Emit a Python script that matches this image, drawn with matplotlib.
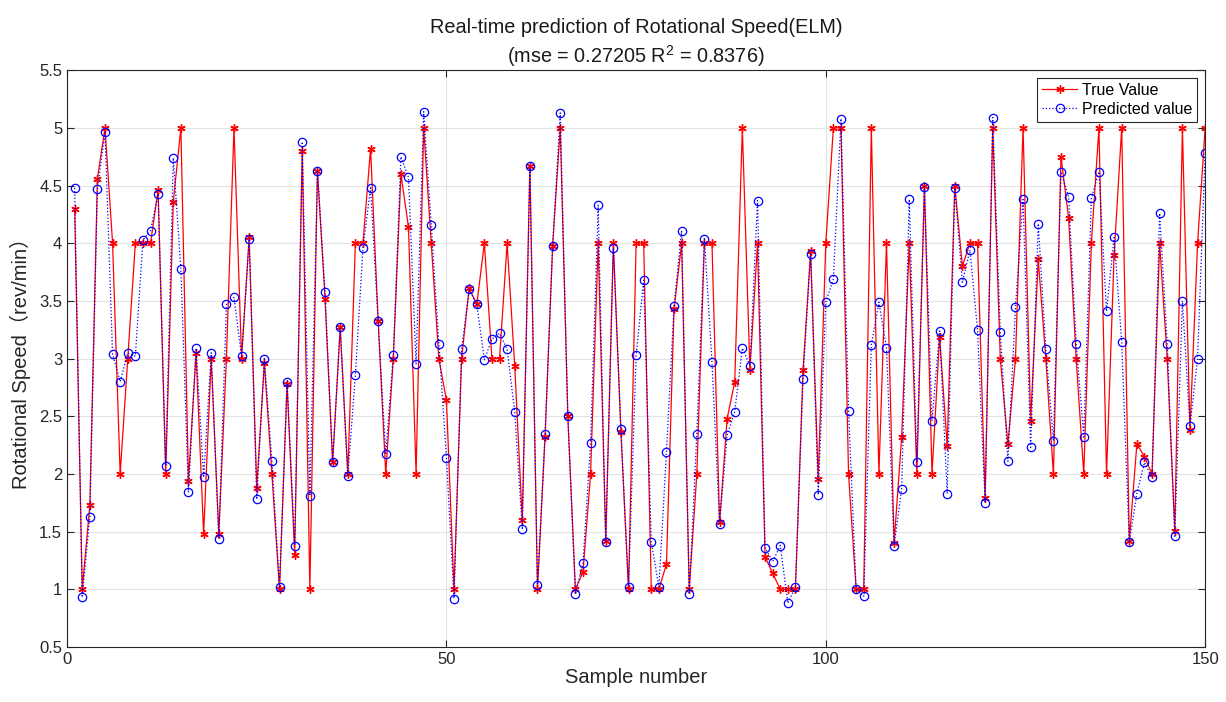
import matplotlib
matplotlib.use('Agg')
import matplotlib.pyplot as plt
import numpy as np

plt.rcParams['font.family'] = ['Liberation Sans', 'Noto Sans CJK SC', 'DejaVu Sans']
plt.rcParams['mathtext.fontset'] = 'custom'
plt.rcParams['mathtext.rm'] = 'Liberation Sans'

# samples 1..150
true_vals = [
    4.3, 1.0, 1.73, 4.56, 5.0, 4.0, 2.0, 3.0, 4.0, 4.0,
    4.0, 4.46, 2.0, 4.36, 5.0, 1.94, 3.05, 1.48, 3.0, 1.48,
    3.0, 5.0, 3.0, 4.05, 1.88, 2.96, 2.0, 1.0, 2.78, 1.3,
    4.8, 1.0, 4.63, 3.52, 2.1, 3.27, 2.0, 4.0, 4.0, 4.82,
    3.33, 2.0, 3.0, 4.6, 4.14, 2.0, 5.0, 4.0, 3.0, 2.64,
    1.0, 3.0, 3.61, 3.47, 4.0, 3.0, 3.0, 4.0, 2.94, 1.6,
    4.67, 1.0, 2.32, 3.98, 5.0, 2.5, 1.0, 1.15, 2.0, 4.0,
    1.42, 4.0, 2.36, 1.0, 4.0, 4.0, 1.0, 1.0, 1.22, 3.43,
    4.0, 1.0, 2.0, 4.0, 4.0, 1.58, 2.48, 2.8, 5.0, 2.9,
    4.0, 1.28, 1.14, 1.0, 1.0, 1.0, 2.9, 3.93, 1.96, 4.0,
    5.0, 5.0, 2.0, 1.0, 1.0, 5.0, 2.0, 4.0, 1.4, 2.32,
    4.0, 2.0, 4.5, 2.0, 3.19, 2.24, 4.5, 3.8, 4.0, 4.0,
    1.79, 5.0, 3.0, 2.26, 3.0, 5.0, 2.46, 3.86, 3.0, 2.0,
    4.75, 4.22, 3.0, 2.0, 4.0, 5.0, 2.0, 3.9, 5.0, 1.42,
    2.26, 2.15, 2.0, 4.0, 3.0, 1.51, 5.0, 2.38, 4.0, 5.0,
]
pred_vals = [
    4.48, 0.93, 1.63, 4.47, 4.96, 3.04, 2.80, 3.05, 3.02, 4.03,
    4.11, 4.43, 2.07, 4.74, 3.78, 1.84, 3.09, 1.97, 3.05, 1.44,
    3.47, 3.53, 3.02, 4.04, 1.78, 3.0, 2.11, 1.02, 2.80, 1.38,
    4.88, 1.81, 4.63, 3.58, 2.1, 3.27, 1.98, 2.86, 3.96, 4.48,
    3.33, 2.17, 3.03, 4.75, 4.57, 2.95, 5.14, 4.16, 3.13, 2.14,
    0.92, 3.08, 3.6, 3.47, 2.99, 3.17, 3.22, 3.08, 2.54, 1.52,
    4.67, 1.04, 2.35, 3.98, 5.13, 2.5, 0.96, 1.23, 2.27, 4.33,
    1.41, 3.96, 2.39, 1.02, 3.03, 3.68, 1.41, 1.02, 2.19, 3.46,
    4.11, 0.96, 2.35, 4.04, 2.97, 1.57, 2.34, 2.54, 3.09, 2.94,
    4.37, 1.36, 1.24, 1.38, 0.88, 1.02, 2.82, 3.91, 1.82, 3.49,
    3.69, 5.08, 2.55, 1.0, 0.94, 3.12, 3.49, 3.09, 1.38, 1.87,
    4.38, 2.1, 4.49, 2.46, 3.24, 1.83, 4.48, 3.66, 3.94, 3.25,
    1.75, 5.09, 3.23, 2.11, 3.45, 4.38, 2.23, 4.17, 3.08, 2.29,
    4.62, 4.40, 3.13, 2.32, 4.39, 4.62, 3.41, 4.05, 3.14, 1.41,
    1.83, 2.1, 1.97, 4.26, 3.13, 1.46, 3.50, 2.42, 3.0, 4.78,
]
samples = np.arange(1, len(true_vals) + 1)

fig = plt.figure(figsize=(12.26, 7.02), dpi=100)
ax = fig.add_axes([0.0547, 0.0783, 0.9283, 0.8217])

# matlab style 'r-*' and 'b:o'
ax.plot(samples, true_vals, color='red', ls='-', marker=(6, 2, 0), lw=0.9,
        ms=6, mew=1.0, label='True Value')
ax.plot(samples, pred_vals, color='blue', ls=':', marker='o', lw=0.9, ms=6,
        mfc='none', mew=0.9, label='Predicted value')

ax.set_xlim(0, 150)
ax.set_ylim(0.5, 5.5)
ax.set_xticks([0, 50, 100, 150])
ax.set_yticks(np.arange(0.5, 5.51, 0.5))
ax.set_yticklabels(['0.5', '1', '1.5', '2', '2.5', '3', '3.5', '4', '4.5', '5', '5.5'])
ax.grid(True, color='#e3e3e3', lw=0.8)
ax.set_axisbelow(True)
ax.tick_params(direction='in', top=True, right=True, labelsize=12, length=5,
               color='#262626', labelcolor='#262626')
for s in ax.spines.values():
    s.set_color('#262626')
    s.set_linewidth(0.8)

ax.set_xlabel('Sample number', fontsize=14.5, color='#262626', labelpad=1)
ax.set_ylabel('Rotational Speed（rev/min）', fontsize=14.5, color='#262626', labelpad=6)
ax.set_title('Real-time prediction of Rotational Speed(ELM)\n(mse = 0.27205 R$^2$ = 0.8376)',
             fontsize=14.3, color='#1a1a1a', pad=5, linespacing=1.35)

leg = ax.legend(loc='upper right', fontsize=11.5, fancybox=False, framealpha=1,
                edgecolor='#262626', borderpad=0.3, handlelength=2.2,
                handletextpad=0.3, labelspacing=0.25, borderaxespad=0.5)
leg.get_frame().set_linewidth(0.8)

fig.savefig('out.png', dpi=100)
